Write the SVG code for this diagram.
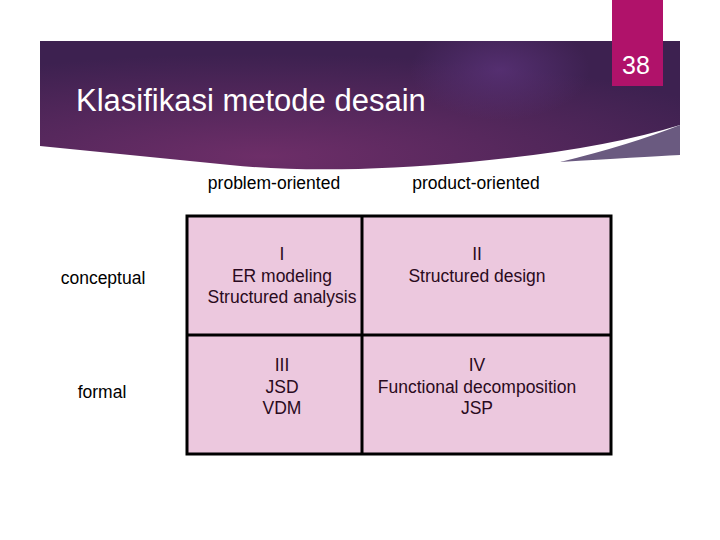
<svg xmlns="http://www.w3.org/2000/svg" width="720" height="540" viewBox="0 0 720 540">
<defs>
<radialGradient id="bg" cx="0.35" cy="0.9" r="0.8">
<stop offset="0" stop-color="#6d2e68"/>
<stop offset="1" stop-color="#3d2150"/>
</radialGradient>
<radialGradient id="glow" cx="0.5" cy="0.5" r="0.5">
<stop offset="0" stop-color="#5a3278" stop-opacity="0.8"/>
<stop offset="1" stop-color="#5a3278" stop-opacity="0"/>
</radialGradient>
<clipPath id="bc"><path d="M40,41 H680 V125 Q600,150 470,162 Q330,175 230,165 L40,146 Z"/></clipPath>
<style>
.t{font-family:"Liberation Sans",Arial,sans-serif;font-size:17.5px;fill:#000;text-anchor:middle}
.c{font-family:"Liberation Sans",Arial,sans-serif;font-size:17.5px;fill:#2a0a20;text-anchor:middle}
.g{stroke:#000;stroke-width:3;fill:none}
</style>
</defs>
<rect width="720" height="540" fill="#fff"/>
<g id="banner">
<path d="M40,41 H680 V125 Q600,150 470,162 Q330,175 230,165 L40,146 Z" fill="url(#bg)"/>
<ellipse cx="500" cy="70" rx="90" ry="50" fill="url(#glow)" clip-path="url(#bc)"/>
<path d="M680,125 V155 Q640,157 560,162 Q630,145 680,125 Z" fill="#6a5a80"/>
<text x="76" y="111" font-family="Liberation Sans,Arial,sans-serif" font-size="31" fill="#fff">Klasifikasi metode desain</text>
</g>
<g id="page">
<rect x="612" y="0" width="51" height="86" fill="#b0126a"/>
<text x="636" y="74" font-family="Liberation Sans,Arial,sans-serif" font-size="25" fill="#fff" text-anchor="middle">38</text>
</g>
<g id="headers">
<text class="t" x="274" y="189">problem-oriented</text>
<text class="t" x="476" y="189">product-oriented</text>
<text class="t" x="103" y="284">conceptual</text>
<text class="t" x="102" y="398">formal</text>
</g>
<g id="grid">
<rect x="187" y="216" width="424" height="238" fill="#ecc8de"/>
<rect class="g" x="187" y="216" width="424" height="238"/>
<line class="g" x1="362" y1="216" x2="362" y2="454"/>
<line class="g" x1="187" y1="335" x2="611" y2="335"/>
</g>
<g id="cell1"><text class="c" x="282" y="260">I</text><text class="c" x="282" y="282">ER modeling</text><text class="c" x="282" y="303">Structured analysis</text></g>
<g id="cell2"><text class="c" x="477" y="260">II</text><text class="c" x="477" y="282">Structured design</text></g>
<g id="cell3"><text class="c" x="282" y="371">III</text><text class="c" x="282" y="393">JSD</text><text class="c" x="282" y="414">VDM</text></g>
<g id="cell4"><text class="c" x="477" y="371">IV</text><text class="c" x="477" y="393">Functional decomposition</text><text class="c" x="477" y="414">JSP</text></g>
<g id="connectors"/>
</svg>
